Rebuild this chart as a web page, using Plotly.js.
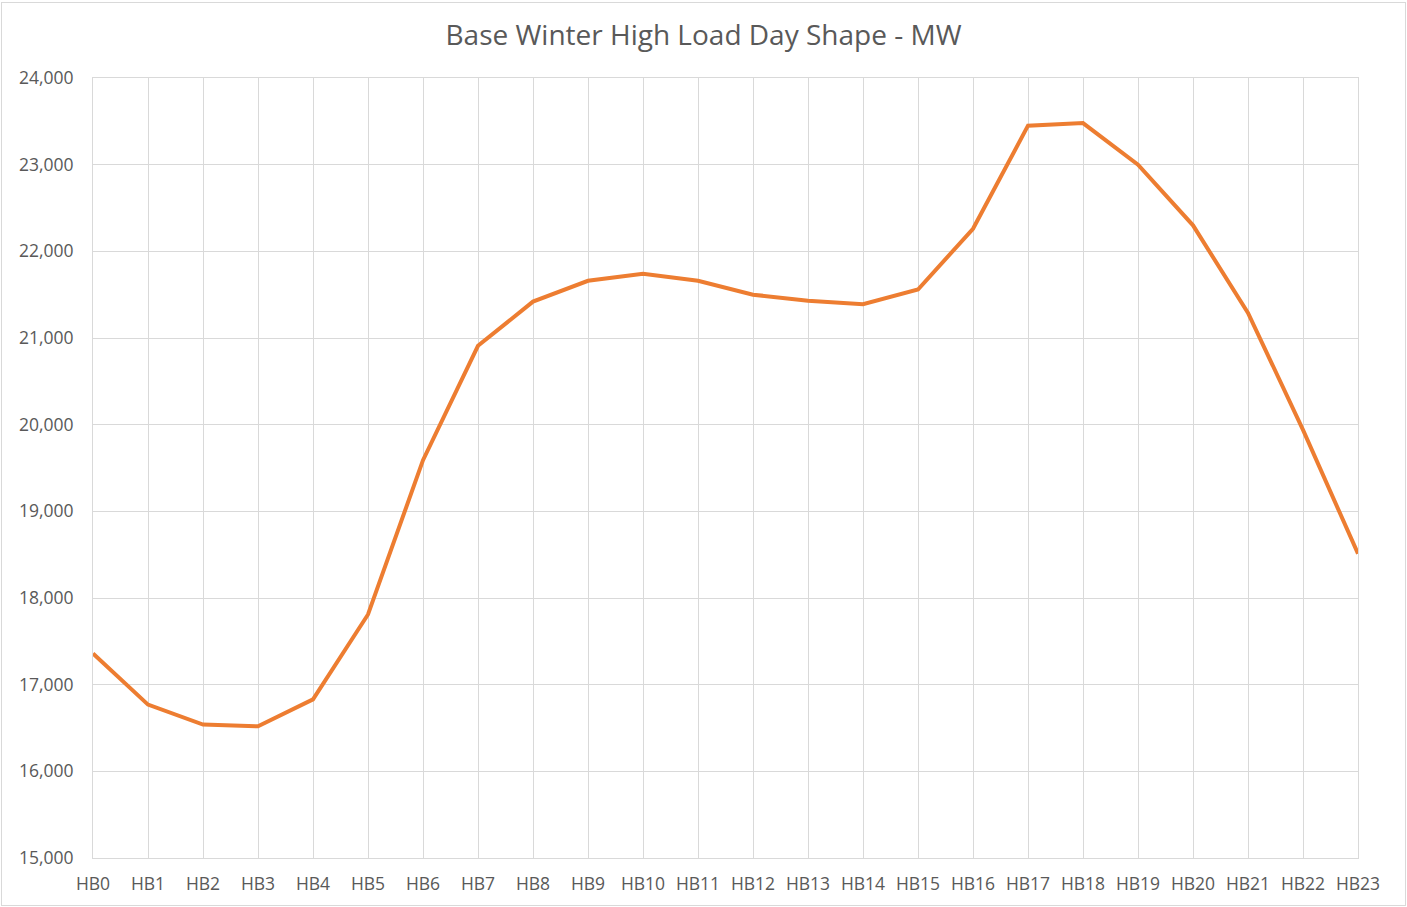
<!DOCTYPE html>
<html>
<head>
<meta charset="utf-8">
<script src="https://cdn.plot.ly/plotly-3.0.1.min.js"></script>
<style>
html,body{margin:0;padding:0;background:#fff;}
#wrap{position:relative;width:1407px;height:907px;}
#chart{position:absolute;left:0;top:0;width:1407px;height:907px;}
#frame{position:absolute;left:1px;top:2px;width:1403px;height:902px;border:1px solid #d9d9d9;pointer-events:none;}
</style>
</head>
<body>
<div id="wrap"><div id="chart"></div><div id="frame"></div></div>
<script>
const hours = ["HB0","HB1","HB2","HB3","HB4","HB5","HB6","HB7","HB8","HB9","HB10","HB11","HB12","HB13","HB14","HB15","HB16","HB17","HB18","HB19","HB20","HB21","HB22","HB23"];
const loadMW = [17360,16770,16540,16520,16830,17810,19590,20910,21420,21660,21740,21660,21500,21430,21390,21560,22260,23450,23480,23000,22300,21290,19940,18510];
const yTicks = [15000,16000,17000,18000,19000,20000,21000,22000,23000,24000];

const trace = {
  x: hours, y: loadMW, type: 'scatter', mode: 'lines',
  line: {color: '#ED7D31', width: 4}, hoverinfo: 'x+y'
};
const fam = '"Open Sans", "Liberation Sans", sans-serif';
const layout = {
  width: 1407, height: 907,
  margin: {l: 93, r: 49, t: 78, b: 49},
  paper_bgcolor: 'rgba(0,0,0,0)', plot_bgcolor: '#fff',
  showlegend: false,
  title: {text: 'Base Winter High Load Day Shape - MW', x: 0.5, xanchor: 'center', y: 0.961, yanchor: 'middle',
    font: {family: fam, color: '#595959', size: 28}},
  xaxis: {type: 'category', range: [0, 23], showgrid: true, gridcolor: '#d9d9d9', gridwidth: 1,
    showline: true, mirror: true, linecolor: '#d9d9d9', linewidth: 1, zeroline: false, ticks: '',
    ticklabelstandoff: 10, tickfont: {family: fam, color: '#595959', size: 17.5}},
  yaxis: {range: [15000, 24000], tickvals: yTicks, ticktext: yTicks.map(v => v.toLocaleString('en-US')),
    showgrid: true, gridcolor: '#d9d9d9', gridwidth: 1, zeroline: false, showline: true, mirror: true,
    linecolor: '#d9d9d9', linewidth: 1, ticks: '',
    ticklabelstandoff: 15, tickfont: {family: fam, color: '#595959', size: 17.5}}
};
Plotly.newPlot('chart', [trace], layout, {displayModeBar: false, staticPlot: true});
</script>
</body>
</html>
